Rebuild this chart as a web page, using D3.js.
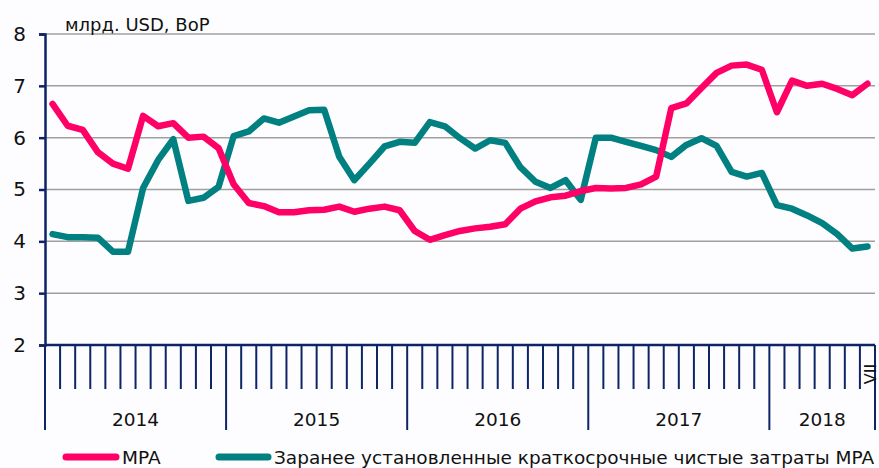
<!DOCTYPE html>
<html>
<head>
<meta charset="utf-8">
<script src="https://cdn.jsdelivr.net/npm/d3@7"></script>
<style>
  body { margin: 0; background: #fdfdff; }
  svg { display: block; font-family: "DejaVu Sans", Verdana, sans-serif; }
</style>
</head>
<body>
<div id="chart"></div>
<script>
  // years shown under the axis and how many months each one covers
  const years = ["2014", "2015", "2016", "2017", "2018"];
  const monthsPerYear = [12, 12, 12, 12, 7];
  const lastMonthLabel = "VII";

  // MPA, bln USD (BoP), Jan 2014 - Jul 2018
  const mpa = [6.65, 6.23, 6.15, 5.72, 5.5, 5.4, 6.42, 6.22, 6.28, 6.0, 6.02, 5.8,
               5.1, 4.74, 4.68, 4.56, 4.56, 4.6, 4.61, 4.67, 4.57, 4.63, 4.67, 4.6,
               4.2, 4.03, 4.12, 4.2, 4.25, 4.28, 4.33, 4.63, 4.77, 4.85, 4.88, 4.97,
               5.03, 5.02, 5.03, 5.1, 5.25, 6.57, 6.66, 6.96, 7.25, 7.39, 7.41, 7.31,
               6.49, 7.1, 7.0, 7.04, 6.94, 6.82, 7.04];

  // predetermined short-term net drains
  const drains = [4.14, 4.08, 4.08, 4.07, 3.8, 3.8, 5.03, 5.57, 5.97, 4.78, 4.84, 5.05,
                  6.03, 6.12, 6.37, 6.29, 6.41, 6.53, 6.54, 5.63, 5.18, 5.5, 5.83, 5.92,
                  5.9, 6.3, 6.22, 5.99, 5.79, 5.95, 5.9, 5.43, 5.15, 5.03, 5.18, 4.8,
                  6.0, 6.0, 5.92, 5.84, 5.76, 5.63, 5.86, 5.99, 5.84, 5.34, 5.25, 5.32,
                  4.7, 4.63, 4.5, 4.35, 4.14, 3.86, 3.9];

  const yTicks = [2, 3, 4, 5, 6, 7, 8];
  const seriesNames = ["MPA", "Заранее установленные краткосрочные чистые затраты MPA"];
  const unitLabel = "млрд. USD, BoP";

  const pink = "#ff0066", teal = "#008080", navy = "#0d2566", grid = "#a0a0a0";

  const W = 879, H = 468;
  const plotLeft = 45, plotRight = 875, plotTop = 34, plotBottom = 345;

  // build month keys from the year list
  const months = [];
  years.forEach((yr, i) => {
    for (let m = 0; m < monthsPerYear[i]; m++) months.push(yr + "-" + (m + 1));
  });

  const x = d3.scaleBand().domain(months).range([plotLeft, plotRight]).padding(0);
  const y = d3.scaleLinear().domain([2, 8]).range([plotBottom, plotTop]);

  const svg = d3.select("#chart").append("svg")
    .attr("width", W).attr("height", H);

  // horizontal gridlines
  svg.append("g").selectAll("line")
    .data(yTicks.filter(d => d > 2))
    .enter().append("line")
    .attr("x1", plotLeft).attr("x2", plotRight)
    .attr("y1", d => y(d)).attr("y2", d => y(d))
    .attr("stroke", grid).attr("stroke-width", 1.5);

  // left axis
  const yAxis = svg.append("g")
    .attr("transform", "translate(" + plotLeft + ",0)")
    .call(d3.axisLeft(y).tickValues(yTicks).tickSize(6).tickPadding(13).tickFormat(d3.format("d")));
  yAxis.select(".domain").attr("stroke", navy).attr("stroke-width", 2.5);
  yAxis.selectAll(".tick line").attr("stroke", navy).attr("stroke-width", 2.5);
  yAxis.selectAll(".tick text")
    .attr("fill", "#111").style("font-size", "20px")
    .style("font-family", "DejaVu Sans, sans-serif");

  svg.append("text")
    .attr("x", 65).attr("y", 31)
    .style("font-size", "18px").attr("fill", "#111")
    .text(unitLabel);

  // category axis: month ticks, longer ones at year boundaries
  const boundaries = months.map(m => ({x: x(m), yearStart: m.endsWith("-1")}));
  boundaries.push({x: plotRight, yearStart: true});

  svg.append("line")
    .attr("x1", plotLeft).attr("x2", plotRight)
    .attr("y1", plotBottom).attr("y2", plotBottom)
    .attr("stroke", navy).attr("stroke-width", 2.5);

  svg.append("g").selectAll("line")
    .data(boundaries)
    .enter().append("line")
    .attr("x1", d => d.x).attr("x2", d => d.x)
    .attr("y1", plotBottom)
    .attr("y2", d => d.yearStart ? 430 : 389)
    .attr("stroke", navy).attr("stroke-width", 2);

  // year labels centred in their span
  let offset = 0;
  const yearPos = years.map((yr, i) => {
    const first = months[offset], last = months[offset + monthsPerYear[i] - 1];
    offset += monthsPerYear[i];
    return {yr, cx: (x(first) + x(last) + x.bandwidth()) / 2};
  });
  svg.append("g").selectAll("text")
    .data(yearPos)
    .enter().append("text")
    .attr("x", d => d.cx).attr("y", 426)
    .attr("text-anchor", "middle")
    .style("font-size", "18.5px").attr("fill", "#111")
    .text(d => d.yr);

  const lastM = months[months.length - 1];
  svg.append("text")
    .attr("transform", "translate(" + (x(lastM) + x.bandwidth() / 2 + 9) + ",374) rotate(-90)")
    .attr("text-anchor", "middle")
    .style("font-size", "16px").attr("fill", "#111")
    .text(lastMonthLabel);

  // series lines
  const line = d3.line()
    .x((d, i) => x(months[i]) + x.bandwidth() / 2)
    .y(d => y(d));

  svg.append("path").datum(drains)
    .attr("d", line).attr("fill", "none")
    .attr("stroke", teal).attr("stroke-width", 6.5)
    .attr("stroke-linejoin", "round").attr("stroke-linecap", "round");

  svg.append("path").datum(mpa)
    .attr("d", line).attr("fill", "none")
    .attr("stroke", pink).attr("stroke-width", 6.5)
    .attr("stroke-linejoin", "round").attr("stroke-linecap", "round");

  // legend
  const legend = [
    {name: seriesNames[0], color: pink, x0: 66, x1: 116, tx: 122},
    {name: seriesNames[1], color: teal, x0: 219, x1: 268, tx: 274}
  ];
  const lg = svg.append("g").selectAll("g").data(legend).enter().append("g");
  lg.append("line")
    .attr("x1", d => d.x0).attr("x2", d => d.x1)
    .attr("y1", 457).attr("y2", 457)
    .attr("stroke", d => d.color).attr("stroke-width", 7)
    .attr("stroke-linecap", "round");
  lg.append("text")
    .attr("x", d => d.tx).attr("y", 464)
    .style("font-size", "18.5px").attr("fill", "#111")
    .text(d => d.name);
</script>
</body>
</html>
